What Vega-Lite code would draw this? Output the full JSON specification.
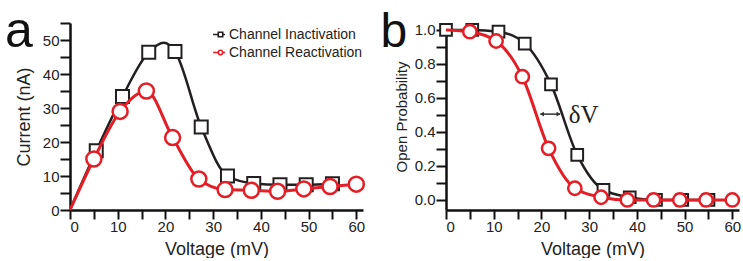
{
  "$schema": "https://vega.github.io/schema/vega-lite/v6.json",
  "background": "white",
  "padding": {"left": 5, "top": 7, "right": 0, "bottom": 0},
  "spacing": 83,
  "bounds": "flush",
  "config": {
    "view": {"stroke": null},
    "axis": {
      "labelFont": "Liberation Sans", "labelFontSize": 15, "labelColor": "#222",
      "titleFont": "Liberation Sans", "titleFontSize": 18, "titleFontWeight": "normal", "titleColor": "#222",
      "domainColor": "#111", "domainWidth": 2.5, "tickColor": "#111", "tickWidth": 2,
      "grid": false, "labelOverlap": false, "labelBound": false
    }
  },
  "datasets": {
    "a": [
      {"series": "Channel Inactivation", "voltage": 0, "current": 0, "measured": false},
      {"series": "Channel Inactivation", "voltage": 5.5, "current": 17.4, "measured": true},
      {"series": "Channel Inactivation", "voltage": 11, "current": 33.4, "measured": true},
      {"series": "Channel Inactivation", "voltage": 16.5, "current": 46.4, "measured": true},
      {"series": "Channel Inactivation", "voltage": 19.7, "current": 49.2, "measured": false},
      {"series": "Channel Inactivation", "voltage": 22, "current": 46.6, "measured": true},
      {"series": "Channel Inactivation", "voltage": 27.5, "current": 24.4, "measured": true},
      {"series": "Channel Inactivation", "voltage": 33, "current": 10.0, "measured": true},
      {"series": "Channel Inactivation", "voltage": 38.5, "current": 7.8, "measured": true},
      {"series": "Channel Inactivation", "voltage": 44, "current": 7.4, "measured": true},
      {"series": "Channel Inactivation", "voltage": 49.5, "current": 7.4, "measured": true},
      {"series": "Channel Inactivation", "voltage": 55, "current": 7.7, "measured": true},
      {"series": "Channel Reactivation", "voltage": 0, "current": 0, "measured": false},
      {"series": "Channel Reactivation", "voltage": 5, "current": 15.0, "measured": true},
      {"series": "Channel Reactivation", "voltage": 10.5, "current": 29.0, "measured": true},
      {"series": "Channel Reactivation", "voltage": 16, "current": 35.0, "measured": true},
      {"series": "Channel Reactivation", "voltage": 21.5, "current": 21.3, "measured": true},
      {"series": "Channel Reactivation", "voltage": 27, "current": 9.1, "measured": true},
      {"series": "Channel Reactivation", "voltage": 32.5, "current": 6.0, "measured": true},
      {"series": "Channel Reactivation", "voltage": 38, "current": 5.8, "measured": true},
      {"series": "Channel Reactivation", "voltage": 43.5, "current": 5.5, "measured": true},
      {"series": "Channel Reactivation", "voltage": 49, "current": 6.2, "measured": true},
      {"series": "Channel Reactivation", "voltage": 54.5, "current": 6.9, "measured": true},
      {"series": "Channel Reactivation", "voltage": 60, "current": 7.6, "measured": true}
    ],
    "b": [
      {"series": "Channel Inactivation", "voltage": 0, "prob": 1.0},
      {"series": "Channel Inactivation", "voltage": 5.5, "prob": 1.0},
      {"series": "Channel Inactivation", "voltage": 11, "prob": 0.99},
      {"series": "Channel Inactivation", "voltage": 16.5, "prob": 0.92},
      {"series": "Channel Inactivation", "voltage": 22, "prob": 0.68},
      {"series": "Channel Inactivation", "voltage": 27.5, "prob": 0.265},
      {"series": "Channel Inactivation", "voltage": 33, "prob": 0.059},
      {"series": "Channel Inactivation", "voltage": 38.5, "prob": 0.016},
      {"series": "Channel Inactivation", "voltage": 44, "prob": 0.0},
      {"series": "Channel Inactivation", "voltage": 49.5, "prob": 0.0},
      {"series": "Channel Inactivation", "voltage": 55, "prob": 0.0},
      {"series": "Channel Reactivation", "voltage": 0, "prob": 1.0},
      {"series": "Channel Reactivation", "voltage": 5, "prob": 0.99},
      {"series": "Channel Reactivation", "voltage": 10.5, "prob": 0.935},
      {"series": "Channel Reactivation", "voltage": 16, "prob": 0.725},
      {"series": "Channel Reactivation", "voltage": 21.5, "prob": 0.304},
      {"series": "Channel Reactivation", "voltage": 27, "prob": 0.069},
      {"series": "Channel Reactivation", "voltage": 32.5, "prob": 0.016},
      {"series": "Channel Reactivation", "voltage": 38, "prob": 0.0},
      {"series": "Channel Reactivation", "voltage": 43.5, "prob": 0.0},
      {"series": "Channel Reactivation", "voltage": 49, "prob": 0.0},
      {"series": "Channel Reactivation", "voltage": 54.5, "prob": 0.0},
      {"series": "Channel Reactivation", "voltage": 60, "prob": 0.0}
    ],
    "one": [{"label": "panel"}]
  },
  "hconcat": [
    {
      "width": 293,
      "height": 187,
      "resolve": {"axis": {"x": "independent", "y": "independent"}},
      "layer": [
        {"data": {"name": "a"},
         "encoding": {
           "x": {"field": "voltage", "type": "quantitative",
             "scale": {"domain": [0, 61.4], "nice": false, "zero": false},
             "axis": {"title": "Voltage (mV)", "values": [0, 5, 10, 15, 20, 25, 30, 35, 40, 45, 50, 55, 60],
               "labelExpr": "datum.value % 10 === 0 ? datum.label : ''",
               "tickSize": 9, "labelPadding": 0, "titlePadding": 6,
               "encode": {"ticks": {"update": {"y2": {"signal": "datum.value % 10 === 0 ? 9 : 5"}}}}}},
           "y": {"field": "current", "type": "quantitative",
             "scale": {"domain": [0, 55], "nice": false},
             "axis": {"title": "Current (nA)", "values": [0, 5, 10, 15, 20, 25, 30, 35, 40, 45, 50, 55],
               "labelExpr": "datum.value % 10 === 0 ? datum.label : ''",
               "tickSize": 10, "labelPadding": 1, "titlePadding": 9,
               "encode": {"ticks": {"update": {"x2": {"signal": "datum.value % 10 === 0 ? -10 : -4"}}}}}},
           "stroke": {"field": "series", "type": "nominal",
             "scale": {"domain": ["Channel Inactivation", "Channel Reactivation"], "range": ["#231f20", "#e41e26"]},
             "legend": {"orient": "none", "legendX": 142, "legendY": 3, "title": null,
               "labelFont": "Liberation Sans", "labelFontSize": 14, "labelColor": "#222",
               "symbolSize": 220, "symbolStrokeWidth": 1.6, "symbolFillColor": "white",
               "rowPadding": 2, "labelOffset": 0, "padding": 0,
               "encode": {"symbols": {"update": {"shape": {"signal": "datum.value === 'Channel Inactivation' ? 'M-1,0H-0.3M-0.3,-0.3H0.3V0.3H-0.3ZM0.3,0H0.6' : 'M-1,0H-0.3A0.3,0.3,0,1,1,0.3,0A0.3,0.3,0,1,1,-0.3,0M0.3,0H0.6'"}}}}}}
         },
         "layer": [
           {"transform": [{"filter": "datum.series === 'Channel Inactivation'"}],
            "mark": {"type": "line", "interpolate": "monotone", "strokeWidth": 2.5}},
           {"transform": [{"filter": "datum.series === 'Channel Inactivation' && datum.measured"}],
            "mark": {"type": "point", "shape": "square", "filled": true, "fill": "white", "size": 169, "strokeWidth": 2, "opacity": 1}},
           {"transform": [{"filter": "datum.series === 'Channel Reactivation'"}],
            "mark": {"type": "line", "interpolate": "monotone", "strokeWidth": 3}},
           {"transform": [{"filter": "datum.series === 'Channel Reactivation' && datum.measured"}],
            "mark": {"type": "point", "shape": "circle", "filled": true, "fill": "white", "size": 225, "strokeWidth": 2.5, "opacity": 1}}
         ]},
        {"data": {"name": "one"},
         "mark": {"type": "text", "text": "a", "font": "Liberation Sans", "fontSize": 50, "align": "left", "baseline": "alphabetic", "color": "#111", "clip": false},
         "encoding": {"x": {"datum": -13.6, "type": "quantitative", "axis": null}, "y": {"datum": 47.9, "type": "quantitative", "axis": null}}}
      ]
    },
    {
      "width": 293,
      "height": 187,
      "resolve": {"axis": {"x": "independent", "y": "independent"}},
      "layer": [
        {"data": {"name": "b"},
         "encoding": {
           "x": {"field": "voltage", "type": "quantitative",
             "scale": {"domain": [0, 61.4], "nice": false, "zero": false},
             "axis": {"title": "Voltage (mV)", "values": [0, 5, 10, 15, 20, 25, 30, 35, 40, 45, 50, 55, 60],
               "labelExpr": "datum.value % 10 === 0 ? datum.label : ''",
               "tickSize": 9, "labelPadding": 0, "titlePadding": 6,
               "encode": {"ticks": {"update": {"y2": {"signal": "datum.value % 10 === 0 ? 9 : 5"}}}}}},
           "y": {"field": "prob", "type": "quantitative",
             "scale": {"domain": [-0.059, 1.041], "nice": false, "zero": false},
             "axis": {"title": "Open Probability", "titleFontSize": 15,
               "values": [0, 0.1, 0.2, 0.3, 0.4, 0.5, 0.6, 0.7, 0.8, 0.9, 1.0],
               "labelExpr": "round(datum.value * 10) % 2 === 0 ? format(datum.value, '.1f') : ''",
               "tickSize": 10, "labelPadding": 1, "titlePadding": 5,
               "encode": {"ticks": {"update": {"x2": {"signal": "round(datum.value * 10) % 2 === 0 ? -10 : -5"}}}}}},
           "stroke": {"field": "series", "type": "nominal",
             "scale": {"domain": ["Channel Inactivation", "Channel Reactivation"], "range": ["#231f20", "#e41e26"]},
             "legend": null}
         },
         "layer": [
           {"transform": [{"filter": "datum.series === 'Channel Inactivation'"}],
            "mark": {"type": "line", "interpolate": "monotone", "strokeWidth": 2.5}},
           {"transform": [{"filter": "datum.series === 'Channel Inactivation'"}],
            "mark": {"type": "point", "shape": "square", "filled": true, "fill": "white", "size": 137, "strokeWidth": 2, "opacity": 1}},
           {"transform": [{"filter": "datum.series === 'Channel Reactivation'"}],
            "mark": {"type": "line", "interpolate": "monotone", "strokeWidth": 3}},
           {"transform": [{"filter": "datum.series === 'Channel Reactivation' && datum.voltage > 0"}],
            "mark": {"type": "point", "shape": "circle", "filled": true, "fill": "white", "size": 177, "strokeWidth": 2.5, "opacity": 1}}
         ]},
        {"data": {"name": "one"},
         "mark": {"type": "rule", "strokeWidth": 1.5, "color": "#333"},
         "encoding": {"x": {"datum": 19.8, "type": "quantitative", "axis": null}, "x2": {"datum": 23.9}, "y": {"datum": 0.505, "type": "quantitative", "axis": null}}},
        {"data": {"name": "one"},
         "mark": {"type": "point", "shape": "triangle-left", "filled": true, "color": "#333", "size": 22, "opacity": 1},
         "encoding": {"x": {"datum": 20.1, "type": "quantitative", "axis": null}, "y": {"datum": 0.505, "type": "quantitative", "axis": null}}},
        {"data": {"name": "one"},
         "mark": {"type": "point", "shape": "triangle-right", "filled": true, "color": "#333", "size": 22, "opacity": 1},
         "encoding": {"x": {"datum": 23.6, "type": "quantitative", "axis": null}, "y": {"datum": 0.505, "type": "quantitative", "axis": null}}},
        {"data": {"name": "one"},
         "mark": {"type": "text", "text": "δV", "font": "Liberation Serif", "fontSize": 25, "align": "left", "baseline": "middle", "color": "#222"},
         "encoding": {"x": {"datum": 25.7, "type": "quantitative", "axis": null}, "y": {"datum": 0.5, "type": "quantitative", "axis": null}}},
        {"data": {"name": "one"},
         "mark": {"type": "text", "text": "b", "font": "Liberation Sans", "fontSize": 48, "align": "left", "baseline": "alphabetic", "color": "#111", "clip": false},
         "encoding": {"x": {"datum": -13.7, "type": "quantitative", "axis": null}, "y": {"datum": 0.9, "type": "quantitative", "axis": null}}}
      ]
    }
  ]
}
